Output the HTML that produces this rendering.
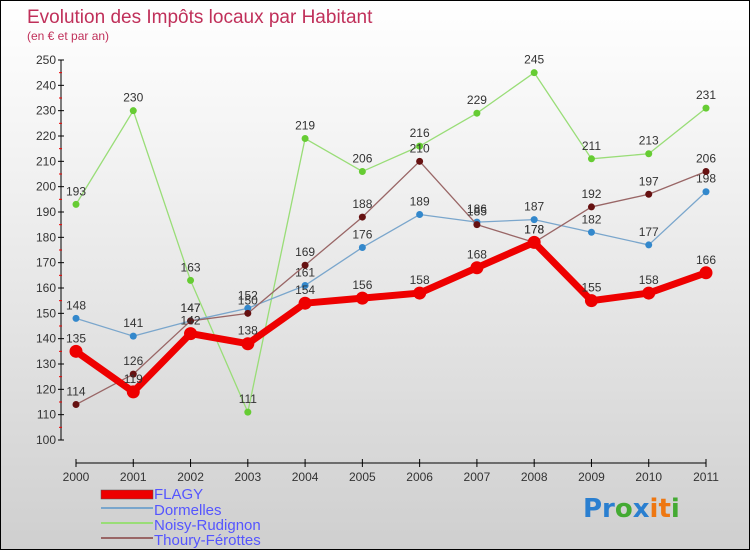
<!DOCTYPE html>
<html><head><meta charset="utf-8"><style>
html,body{margin:0;padding:0}
body{width:750px;height:550px;overflow:hidden;font-family:"Liberation Sans",sans-serif}
#wrap{position:relative;width:748px;height:548px;border:1px solid #000;background:linear-gradient(#ffffff,#f2f2f2 30%,#cfcfcf)}
</style></head><body>
<div id="wrap">
<svg id="chart" width="748" height="548" style="position:absolute;left:0;top:0">
<text x="26" y="22" font-size="19" fill="#c0305a">Evolution des Impôts locaux par Habitant</text>
<text x="26" y="39" font-size="12" fill="#c0305a">(en € et par an)</text>
<g id="axes"></g><g id="series"></g>
<g>
<rect x="100" y="489" width="52" height="9" fill="#e00" stroke="#555" stroke-width="0.5"/>
<text x="153" y="498" font-size="15" fill="#5555ff">FLAGY</text>
<line x1="100" y1="507" x2="152" y2="507" stroke="#7aa6cc" stroke-width="2"/>
<text x="153" y="514" font-size="15" fill="#5555ff">Dormelles</text>
<line x1="100" y1="522" x2="152" y2="522" stroke="#99dd77" stroke-width="2"/>
<text x="153" y="529" font-size="15" fill="#5555ff">Noisy-Rudignon</text>
<line x1="100" y1="537" x2="152" y2="537" stroke="#996666" stroke-width="2"/>
<text x="153" y="544" font-size="15" fill="#5555ff">Thoury-Férottes</text>
</g>
<g font-size="26" font-family="'DejaVu Sans',sans-serif" font-weight="bold">
<text x="582" y="516"><tspan fill="#2a7fd0">Pr</tspan><tspan fill="#44aa33">o</tspan><tspan fill="#2a7fd0">x</tspan><tspan fill="#ee7711">it</tspan><tspan fill="#44aa33">i</tspan></text>
</g>
</svg>
</div>
<script>
const years=["2000","2001","2002","2003","2004","2005","2006","2007","2008","2009","2010","2011"];
const yTicks=[100,110,120,130,140,150,160,170,180,190,200,210,220,230,240,250];
const flagy=[135,119,142,138,154,156,158,168,178,155,158,166];
const dormelles=[148,141,147,152,161,176,189,186,187,182,177,198];
const noisy=[193,230,163,111,219,206,216,229,245,211,213,231];
const thoury=[114,126,147,150,169,188,210,185,178,192,197,206];
const NS="http://www.w3.org/2000/svg";
function xs(i){return 75+i*(630/11);}
function ys(v){return 439-(v-100)*(380/150);}
function mk(tag,attrs,parent,txt){const e=document.createElementNS(NS,tag);for(const k in attrs)e.setAttribute(k,attrs[k]);if(txt!==undefined)e.textContent=txt;parent.appendChild(e);return e;}
const ax=document.getElementById('axes');
let l=mk('line',{x1:60,y1:ys(250),x2:60,y2:ys(100),stroke:'#000','stroke-width':1},ax);

yTicks.forEach(v=>{
 mk('line',{x1:57,y1:ys(v),x2:63,y2:ys(v),stroke:'#000'},ax);
 if(v<250)mk('line',{x1:58,y1:ys(v+5),x2:61,y2:ys(v+5),stroke:'#e00'},ax);
 const t=mk('text',{x:55,y:ys(v)+4,'font-size':12,fill:'#333','text-anchor':'end'},ax,v);
 
});
l=mk('line',{x1:75,y1:462,x2:705,y2:462,stroke:'#000'},ax);

years.forEach((y,i)=>{
 mk('line',{x1:xs(i),y1:458,x2:xs(i),y2:466,stroke:'#000'},ax);
 const t=mk('text',{x:xs(i),y:480,'font-size':12,fill:'#333','text-anchor':'middle'},ax,y);
 
});
const sg=document.getElementById('series');
function draw(name,data,color,dot,w,r){
 const g=mk('g',{},sg);
 
 const p=mk('polyline',{points:data.map((v,i)=>xs(i)+','+ys(v)).join(' '),fill:'none',stroke:color,'stroke-width':w,'stroke-linejoin':'round'},g);
 
 data.forEach((v,i)=>{
  const c=mk('circle',{cx:xs(i),cy:ys(v),r:r,fill:dot},g);
  
  const t=mk('text',{x:xs(i),y:ys(v)-9,'font-size':12,fill:'#333','text-anchor':'middle'},g,v);
  
 });
}
draw('noisy',noisy,'#99dd77','#66cc33',1.3,3.5);
draw('dormelles',dormelles,'#7aa6cc','#3388cc',1.3,3.5);
draw('thoury',thoury,'#996666','#661111',1.3,3.5);
draw('flagy',flagy,'#ee0000','#ee0000',7,6.5);
</script>
</body></html>
